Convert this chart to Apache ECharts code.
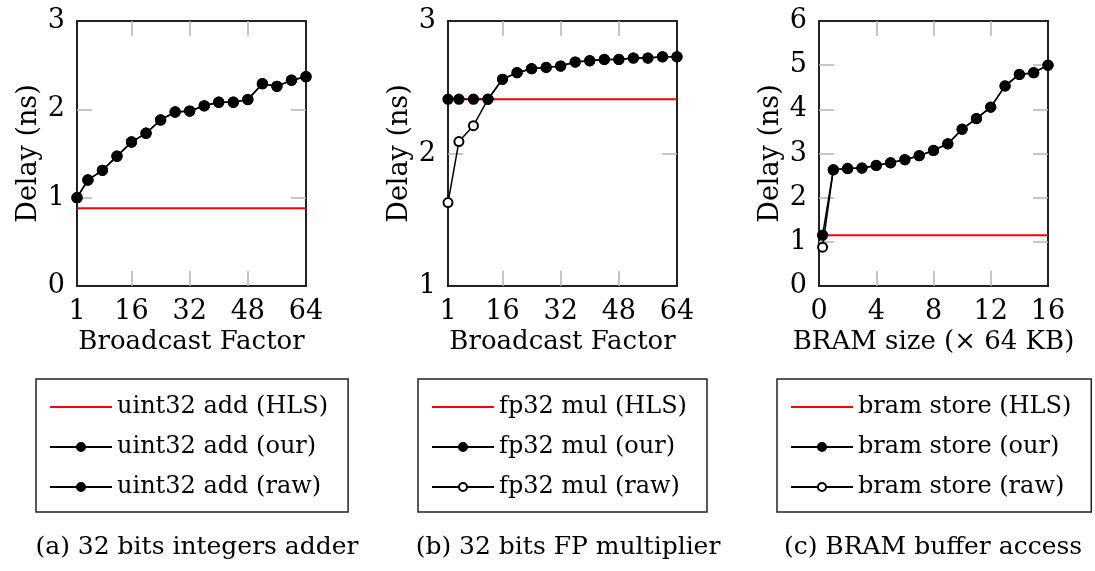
<!DOCTYPE html>
<html>
<head>
<meta charset="utf-8">
<script src="https://cdn.jsdelivr.net/npm/echarts@6/dist/echarts.min.js"></script>
<style>
  html, body { margin: 0; padding: 0; background: #fff; }
  #chart { width: 1095px; height: 571px; }
</style>
</head>
<body>
<div id="chart"></div>
<script>
// panel (a) and (b): broadcast factor
const factors = [1, 4, 8, 12, 16, 20, 24, 28, 32, 36, 40, 44, 48, 52, 56, 60, 64];
const factorLabels = [1, 16, 32, 48, 64];

const addHls = 0.88;
const addOur = [1.00, 1.20, 1.31, 1.47, 1.63, 1.73, 1.88, 1.97, 1.98, 2.04, 2.08, 2.08, 2.11, 2.29, 2.26, 2.33, 2.37];
const addRaw = [1.00, 1.20, 1.31, 1.47, 1.63, 1.73, 1.88, 1.97, 1.98, 2.04, 2.08, 2.08, 2.11, 2.29, 2.26, 2.33, 2.37];

const mulHls = 2.41;
const mulOur = [2.41, 2.41, 2.41, 2.41, 2.56, 2.61, 2.64, 2.65, 2.66, 2.69, 2.70, 2.71, 2.71, 2.72, 2.72, 2.73, 2.73];
const mulRaw = [1.63, 2.09, 2.21, 2.41, 2.56, 2.61, 2.64, 2.65, 2.66, 2.69, 2.70, 2.71, 2.71, 2.72, 2.72, 2.73, 2.73];

// panel (c): bram size (x 64 KB)
const bramSizes = [0.25, 1, 2, 3, 4, 5, 6, 7, 8, 9, 10, 11, 12, 13, 14, 15, 16];
const bramLabels = [0, 4, 8, 12, 16];
const bramHls = 1.15;
const bramOur = [1.15, 2.63, 2.66, 2.67, 2.73, 2.79, 2.86, 2.95, 3.07, 3.22, 3.55, 3.79, 4.05, 4.53, 4.79, 4.83, 5.00];
const bramRaw = [0.88, 2.63, 2.66, 2.67, 2.73, 2.79, 2.86, 2.95, 3.07, 3.22, 3.55, 3.79, 4.05, 4.53, 4.79, 4.83, 5.00];

const captions = ['(a) 32 bits integers adder', '(b) 32 bits FP multiplier', '(c) BRAM buffer access'];

const FONT = 'DejaVu Serif';
const TXT = '#000';
const EDGE = { show: true, onZero: false, lineStyle: { color: '#222', width: 2 } };

// inner ticks skip both ends, they would sit on the frame
const inner = (arr) => arr.slice(1, -1);
const range = (a, b) => { const r = []; for (let v = a; v <= b; v++) r.push(v); return r; };
const tick = (vals) => ({ show: true, inside: true, length: 15, customValues: vals,
  lineStyle: { color: '#b4b4b4', width: 1.5 } });

const panels = [
  { left: 77, xName: 'Broadcast Factor', xMin: 1, xMax: 64, xLabels: factorLabels, yMin: 0, yMax: 3,
    xs: factors, hls: addHls, our: addOur, raw: addRaw, rawSymbol: 'circle',
    names: ['uint32 add (HLS)', 'uint32 add (our)', 'uint32 add (raw)'], legendLeft: 36, capX: 197 },
  { left: 448, xName: 'Broadcast Factor', xMin: 1, xMax: 64, xLabels: factorLabels, yMin: 1, yMax: 3,
    xs: factors, hls: mulHls, our: mulOur, raw: mulRaw, rawSymbol: 'emptyCircle',
    names: ['fp32 mul (HLS)', 'fp32 mul (our)', 'fp32 mul (raw)'], legendLeft: 418, capX: 568 },
  { left: 819, xName: 'BRAM size (× 64 KB)', xMin: 0, xMax: 16, xLabels: bramLabels, yMin: 0, yMax: 6,
    xs: bramSizes, hls: bramHls, our: bramOur, raw: bramRaw, rawSymbol: 'emptyCircle',
    names: ['bram store (HLS)', 'bram store (our)', 'bram store (raw)'], legendLeft: 777, capX: 933 }
];

const grid = [], xAxis = [], yAxis = [], series = [], legend = [], title = [];

panels.forEach((p, i) => {
  grid.push({ left: p.left, top: 21, width: 229, height: 265 });

  const xBase = { gridIndex: i, type: 'value', min: p.xMin, max: p.xMax, splitLine: { show: false },
    axisLine: EDGE, axisTick: tick(inner(p.xLabels)) };
  xAxis.push(Object.assign({}, xBase, {
    position: 'bottom',
    name: p.xName, nameLocation: 'middle', nameGap: 43,
    nameTextStyle: { fontFamily: FONT, fontSize: 26, color: TXT },
    axisLabel: { fontFamily: FONT, fontSize: 27, color: TXT, margin: 12, customValues: p.xLabels }
  }));
  xAxis.push(Object.assign({}, xBase, { position: 'top', axisLabel: { show: false } }));

  const yLabels = range(p.yMin, p.yMax);
  const yBase = { gridIndex: i, type: 'value', min: p.yMin, max: p.yMax, interval: 1, splitLine: { show: false },
    axisLine: EDGE, axisTick: tick(inner(yLabels)) };
  yAxis.push(Object.assign({}, yBase, {
    position: 'left',
    name: 'Delay (ns)', nameLocation: 'middle', nameGap: 35, nameRotate: 90,
    nameTextStyle: { fontFamily: FONT, fontSize: 27, color: TXT },
    axisLabel: { fontFamily: FONT, fontSize: 27, color: TXT, margin: 12 }
  }));
  yAxis.push(Object.assign({}, yBase, { position: 'right', axisLabel: { show: false } }));

  const xi = i * 2, yi = i * 2;
  const dotStyle = { color: '#000', borderColor: '#000', borderWidth: 1.3 };
  series.push({
    name: p.names[0], type: 'line', xAxisIndex: xi, yAxisIndex: yi,
    data: p.xs.map(x => [x, p.hls]), symbol: 'none', silent: true,
    lineStyle: { color: '#ff0000', width: 2 }, itemStyle: { color: '#ff0000' }, z: 2
  });
  series.push({
    name: p.names[2], type: 'line', xAxisIndex: xi, yAxisIndex: yi,
    data: p.xs.map((x, k) => [x, p.raw[k]]), symbol: p.rawSymbol,
    symbolSize: p.rawSymbol === 'circle' ? 10 : 9, silent: true,
    lineStyle: { color: '#000', width: 1.5 }, itemStyle: dotStyle, z: 3
  });
  series.push({
    name: p.names[1], type: 'line', xAxisIndex: xi, yAxisIndex: yi,
    data: p.xs.map((x, k) => [x, p.our[k]]), symbol: 'circle', symbolSize: 10, silent: true,
    lineStyle: { color: '#000', width: 1.5 }, itemStyle: dotStyle, z: 4
  });

  legend.push({
    data: [
      { name: p.names[0], itemStyle: { opacity: 0 } },
      { name: p.names[1] },
      { name: p.names[2] }
    ],
    orient: 'vertical', left: p.legendLeft, top: 379,
    padding: [13, 20, 10, 13], itemGap: 10, itemWidth: 62, itemHeight: 10,
    borderColor: '#222', borderWidth: 1.5, selectedMode: false,
    textStyle: { fontFamily: FONT, fontSize: 24, color: TXT, lineHeight: 30 }
  });

  title.push({
    text: captions[i], left: p.capX, top: 535, textAlign: 'center', padding: 0,
    textStyle: { fontFamily: FONT, fontSize: 25, fontWeight: 'normal', color: TXT }
  });
});

const chart = echarts.init(document.getElementById('chart'));
chart.setOption({
  animation: false,
  backgroundColor: '#fff',
  title, grid, xAxis, yAxis, series, legend
});
</script>
</body>
</html>
